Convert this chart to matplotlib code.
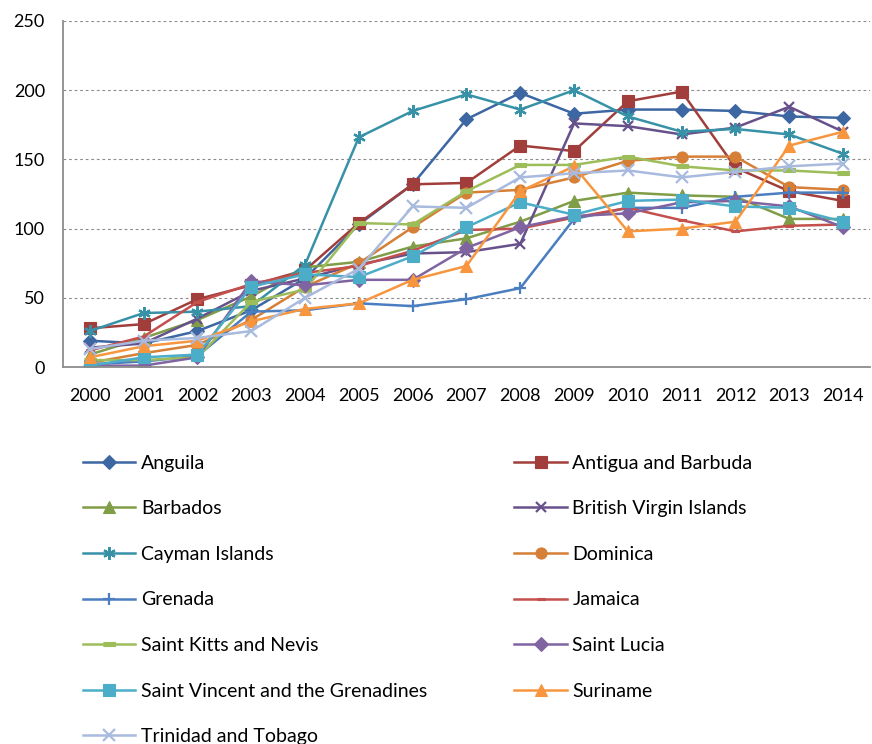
import matplotlib
matplotlib.use('Agg')
import matplotlib.pyplot as plt

plt.rcParams['font.family'] = ['Lato', 'DejaVu Sans']

years = [str(y) for y in range(2000, 2015)]

anguila = [19, 17, 26, 41, 64, 103, 132, 179, 198, 183, 186, 186, 185, 181, 180]
antigua = [28, 31, 49, 59, 70, 104, 132, 133, 160, 156, 192, 199, 144, 127, 120]
barbados = [9, 21, 34, 51, 72, 76, 87, 93, 105, 120, 126, 124, 123, 107, 107]
bvi = [14, 17, 35, 55, 64, 74, 82, 83, 89, 176, 174, 168, 173, 188, 170]
cayman = [26, 39, 40, 44, 74, 166, 185, 197, 186, 200, 181, 170, 172, 168, 154]
dominica = [3, 10, 16, 34, 58, 75, 101, 126, 128, 137, 149, 152, 152, 130, 128]
grenada = [2, 4, 8, 40, 41, 46, 44, 49, 57, 107, 115, 115, 123, 126, 126]
jamaica = [12, 22, 47, 60, 68, 73, 84, 99, 100, 108, 115, 106, 98, 102, 103]
st_kitts = [5, 5, 7, 47, 56, 104, 103, 127, 146, 146, 152, 145, 142, 142, 140]
st_lucia = [1, 1, 7, 62, 59, 63, 63, 86, 101, 109, 111, 119, 120, 116, 101]
st_vincent = [1, 7, 9, 58, 67, 65, 80, 101, 119, 110, 120, 121, 116, 115, 105]
suriname = [7, 15, 19, 33, 42, 46, 63, 73, 127, 145, 98, 100, 105, 160, 170]
trinidad = [13, 19, 21, 26, 50, 71, 116, 115, 137, 140, 142, 137, 141, 145, 147]

countries = ['Anguila', 'Antigua and Barbuda', 'Barbados', 'British Virgin Islands',
             'Cayman Islands', 'Dominica', 'Grenada', 'Jamaica', 'Saint Kitts and Nevis',
             'Saint Lucia', 'Saint Vincent and the Grenadines', 'Suriname', 'Trinidad and Tobago']
values = [anguila, antigua, barbados, bvi, cayman, dominica, grenada, jamaica,
          st_kitts, st_lucia, st_vincent, suriname, trinidad]

dash_small = [(-1, -0.3), (1, -0.3), (1, 0.3), (-1, 0.3)]

# colour, marker, marker size per series
styles = [
    ('#3D67A2', 'D', 7),
    ('#A13E3B', 's', 8),
    ('#809D47', '^', 8),
    ('#67518B', 'x', 7),
    ('#3792A8', (6, 2, 0), 9),
    ('#D57F37', 'o', 8),
    ('#4A7EC0', '+', 9),
    ('#C4504D', dash_small, 6),
    ('#9DBD5A', dash_small, 9),
    ('#8064A2', 'D', 7),
    ('#4BADC7', 's', 8),
    ('#F7963F', '^', 8),
    ('#A8BADD', 'x', 8),
]

fig = plt.figure(figsize=(8.72, 7.44), dpi=100)
ax = fig.add_axes([0.0722, 0.5067, 0.9255, 0.4651])

x = list(range(len(years)))
handles = []
for name, vals, (col, mk, ms) in zip(countries, values, styles):
    filled = mk not in ('x', '+') and not isinstance(mk, tuple)
    line, = ax.plot(x, vals, color=col, lw=1.8, marker=mk, markersize=ms,
                    markerfacecolor=col if filled else 'none',
                    markeredgecolor=col, markeredgewidth=1.6 if not filled else 0.8,
                    label=name, solid_joinstyle='round')
    handles.append(line)

ax.set_xlim(-0.5, len(years) - 0.5)
ax.set_ylim(0, 250)
ax.set_yticks([0, 50, 100, 150, 200, 250])
ax.set_xticks(x)
ax.set_xticklabels(years)
ax.tick_params(axis='both', length=0, labelsize=13, colors='black')
ax.tick_params(axis='y', pad=13)
ax.tick_params(axis='x', pad=15)

for v in [50, 100, 150, 200, 250]:
    ax.axhline(v, color='#8C8C8C', lw=0.8, ls=(0, (2.5, 2.5)), zorder=0)

for s in ['top', 'right']:
    ax.spines[s].set_visible(False)
for s in ['left', 'bottom']:
    ax.spines[s].set_color('#8C8C8C')
    ax.spines[s].set_linewidth(1.3)

# two-column legend below the plot, filled row by row
leg_kw = dict(frameon=False, fontsize=14, handlelength=2.7, handletextpad=0.28,
              labelspacing=1.47, borderpad=0, borderaxespad=0, loc='upper left')
fig.legend(handles[0::2], countries[0::2], bbox_to_anchor=(0.095, 0.389), **leg_kw)
fig.legend(handles[1::2], countries[1::2], bbox_to_anchor=(0.59, 0.389), **leg_kw)

fig.savefig('out.png', dpi=100)
